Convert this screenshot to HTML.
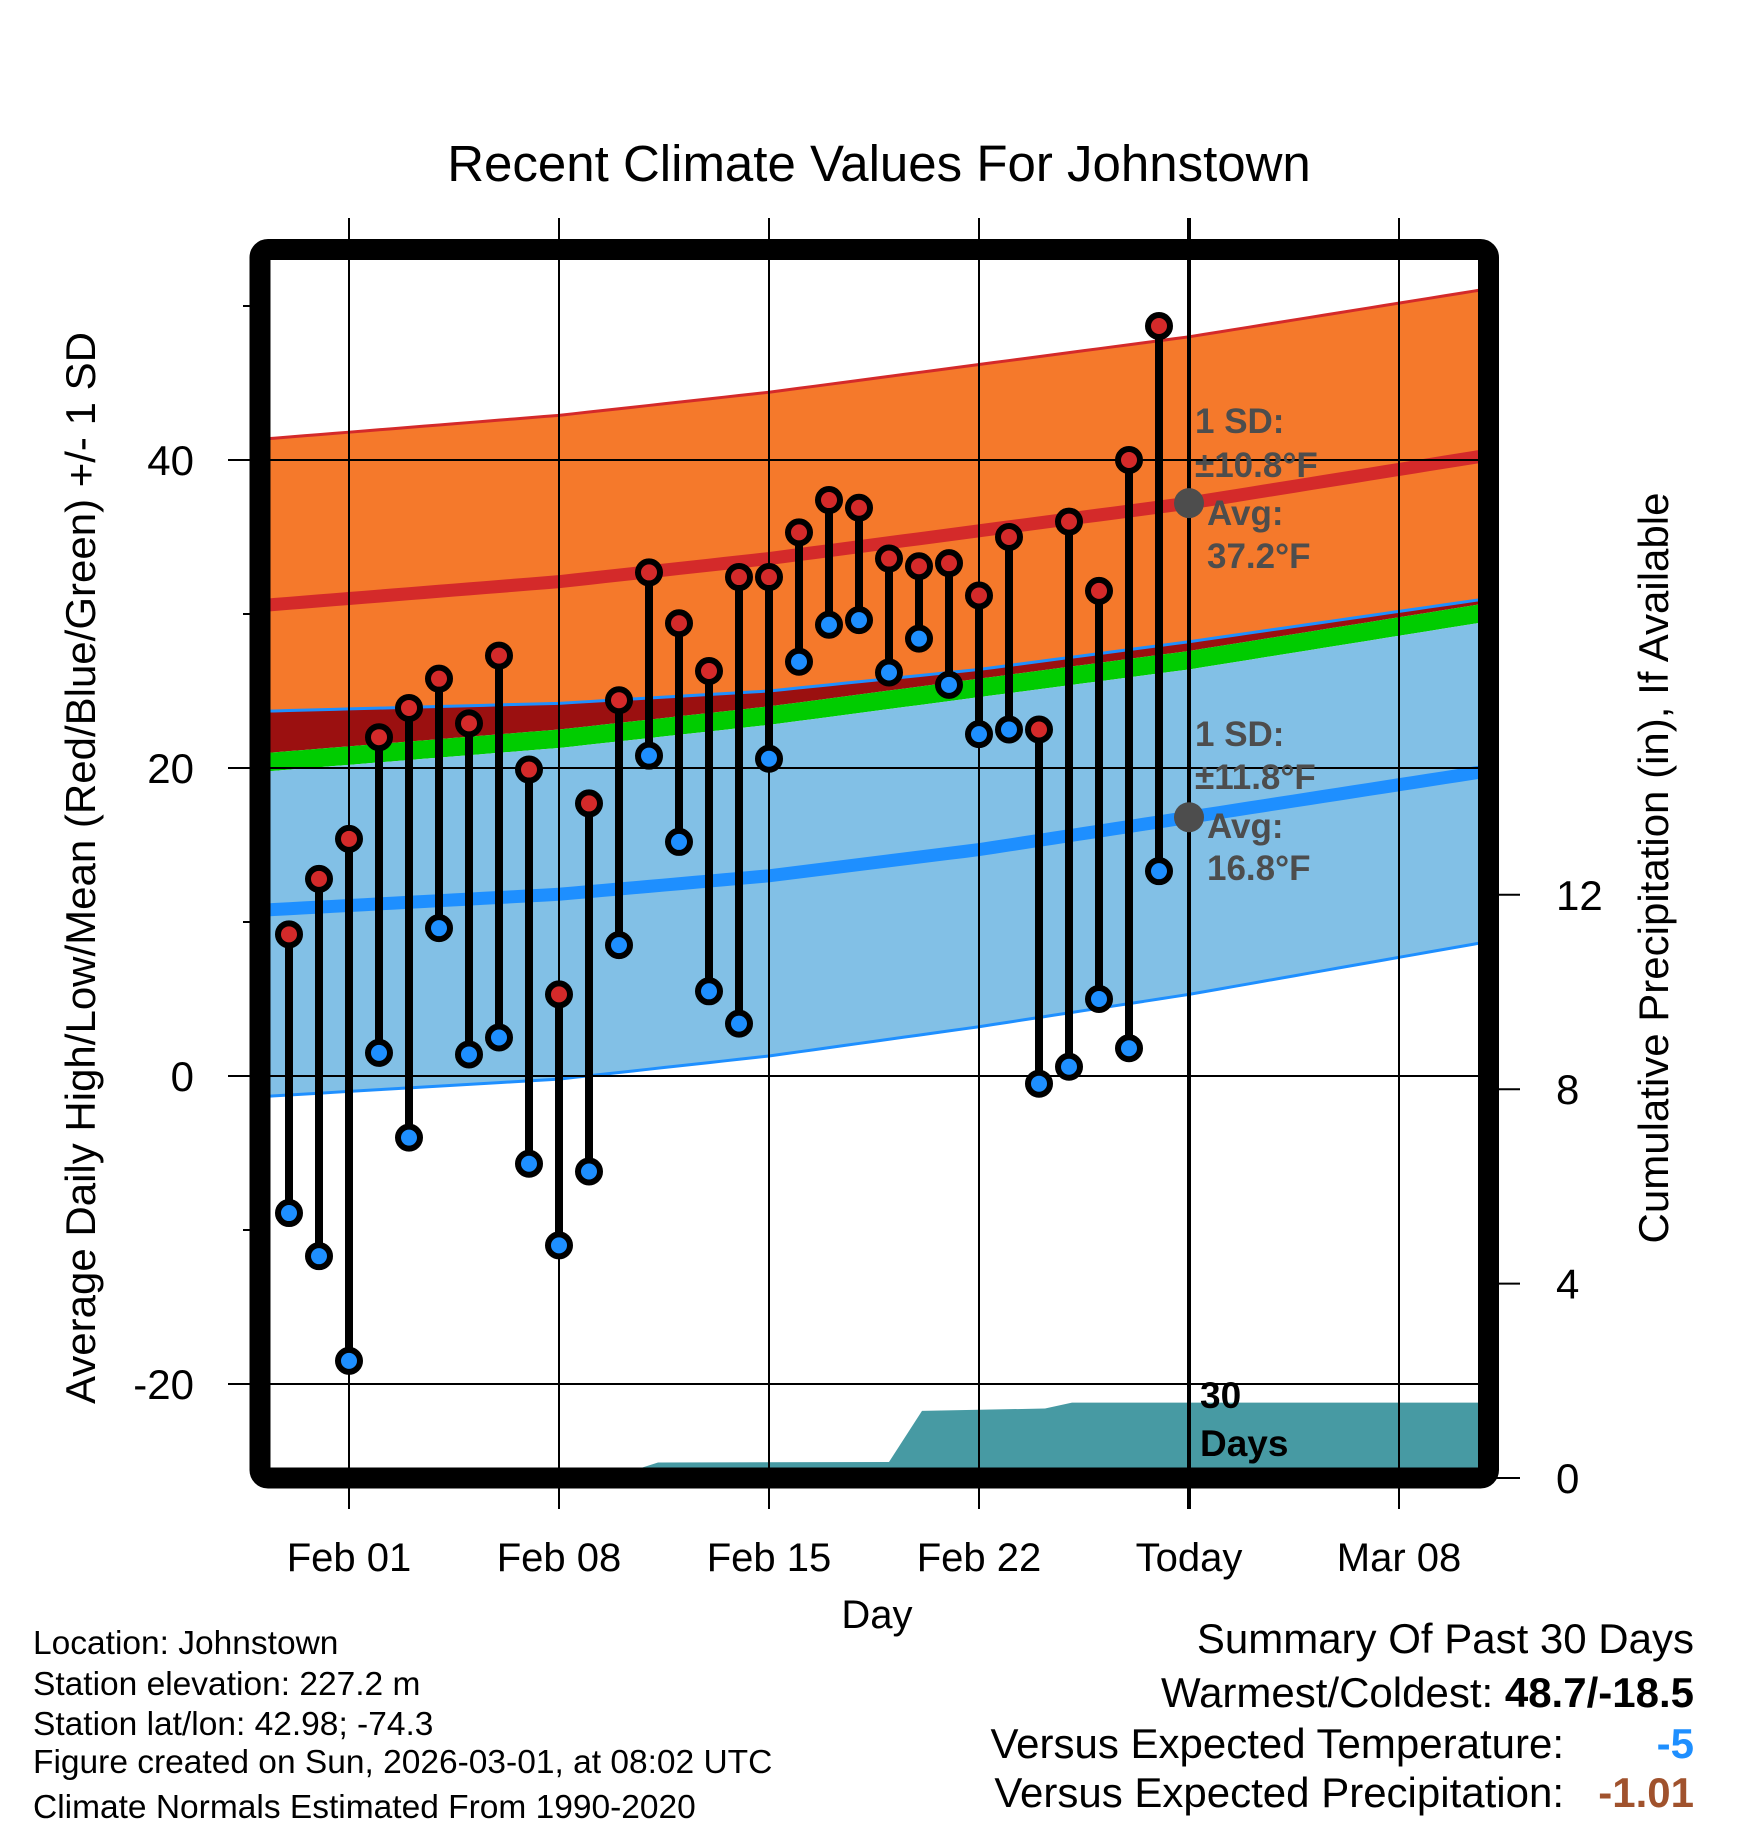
<!DOCTYPE html>
<html><head><meta charset="utf-8"><style>
html,body{margin:0;padding:0;background:#fff;}
svg{display:block;font-family:"Liberation Sans",sans-serif;}
</style></head><body>
<svg id="chart" width="1748" height="1828" viewBox="0 0 1748 1828" xmlns="http://www.w3.org/2000/svg">
<defs><clipPath id="plotclip"><rect x="270" y="260" width="1208" height="1208"/></clipPath></defs>
<text x="879" y="181" font-size="51" text-anchor="middle">Recent Climate Values For Johnstown</text>
<g id="plot" clip-path="url(#plotclip)"></g>
<g id="axes"></g>
<text transform="translate(95,868) rotate(-90)" font-size="42" text-anchor="middle">Average Daily High/Low/Mean (Red/Blue/Green) +/- 1 SD</text>
<text transform="translate(1668,868) rotate(-90)" font-size="42" text-anchor="middle">Cumulative Precipitation (in), If Available</text>
<text x="877" y="1628" font-size="40" text-anchor="middle">Day</text>
<g font-size="33.5">
<text x="33" y="1654">Location: Johnstown</text>
<text x="33" y="1695">Station elevation: 227.2 m</text>
<text x="33" y="1735">Station lat/lon: 42.98; -74.3</text>
<text x="33" y="1773">Figure created on Sun, 2026-03-01, at 08:02 UTC</text>
<text x="33" y="1818">Climate Normals Estimated From 1990-2020</text>
</g>
<g font-size="42">
<text x="1694" y="1653" text-anchor="end">Summary Of Past 30 Days</text>
<text x="1694" y="1707" text-anchor="end">Warmest/Coldest: <tspan font-weight="bold">48.7/-18.5</tspan></text>
<text x="1564" y="1758" text-anchor="end">Versus Expected Temperature:</text>
<text x="1694" y="1758" text-anchor="end" fill="#1e8fff" font-weight="bold">-5</text>
<text x="1564" y="1807" text-anchor="end">Versus Expected Precipitation:</text>
<text x="1694" y="1807" text-anchor="end" fill="#a0522d" font-weight="bold">-1.01</text>
</g>
</svg>
<script>
const obsDays=[-2,-1,0,1,2,3,4,5,6,7,8,9,10,11,12,13,14,15,16,17,18,19,20,21,22,23,24,25,26,27];
const highs=[9.2,12.8,15.4,22,23.9,25.8,22.9,27.3,19.9,5.3,17.7,24.4,32.7,29.4,26.3,32.4,32.4,35.3,37.4,36.9,33.6,33.1,33.3,31.2,35,22.5,36,31.5,40,48.7];
const lows=[-8.9,-11.7,-18.5,1.5,-4,9.6,1.4,2.5,-5.7,-11,-6.2,8.5,20.8,15.2,5.5,3.4,20.6,26.9,29.3,29.6,26.2,28.4,25.4,22.2,22.5,-0.5,0.6,5,1.8,13.3];
const normDays=[-2.6,7,14,21,28,37.6];
const normHigh=[30.6,32.1,33.6,35.4,37.2,40.2];
const normLow=[10.8,11.8,13.0,14.7,16.8,19.7];
const normLowUpper=[23.7,24.2,25.0,26.4,28.2,30.9];
const normLowLower=[-1.3,-0.2,1.3,3.2,5.3,8.6];
const highSD=10.8;
const precipDays=[-2.6,8.7,10.3,18.0,19.1,23.2,24.1,38];
const precipCum=[0,0,0.32,0.33,1.38,1.43,1.55,1.55];
const yTicks=[40,20,0,-20];
const yMinor=[50,30,10,-10];
const pTicks=[0,4,8,12];
const xTickDays=[0,7,14,21,28,35];
const xTickLabels=["Feb 01","Feb 08","Feb 15","Feb 22","Today","Mar 08"];

const NS="http://www.w3.org/2000/svg";
const xd=d=>349+30*d;
const yT=t=>1076-15.4*t;
const yP=p=>1478-48.6*p;
function mk(tag,attrs,parent){const e=document.createElementNS(NS,tag);for(const k in attrs)e.setAttribute(k,attrs[k]);parent.appendChild(e);return e;}
function interp(xs,ys,x){for(let i=0;i<xs.length-1;i++){if(x<=xs[i+1]){const f=(x-xs[i])/(xs[i+1]-xs[i]);return ys[i]+f*(ys[i+1]-ys[i]);}}const n=xs.length-1;const f=(x-xs[n-1])/(xs[n]-xs[n-1]);return ys[n-1]+f*(ys[n]-ys[n-1]);}
const plot=document.getElementById('plot'), axes=document.getElementById('axes');
const samples=[];for(let d=-3;d<=38.5;d+=0.5)samples.push(d);
const hm=d=>interp(normDays,normHigh,d), lm=d=>interp(normDays,normLow,d);
const lu=d=>interp(normDays,normLowUpper,d), ll=d=>interp(normDays,normLowLower,d);
function band(fTop,fBot,fill,name){
  let pts=samples.map(d=>xd(d)+','+yT(fTop(d)));
  pts=pts.concat(samples.slice().reverse().map(d=>xd(d)+','+yT(fBot(d))));
  const p=mk('polygon',{points:pts.join(' '),fill:fill},plot);
  
  
}
function line(f,color,w,name){
  const p=mk('polyline',{points:samples.map(d=>xd(d)+','+yT(f(d))).join(' '),fill:'none',stroke:color,'stroke-width':w},plot);
  
  
}
band(d=>hm(d)+highSD,d=>lu(d),'#f5792b','high-sd-band');
band(d=>lu(d),d=>hm(d)-highSD+1.2,'#9b1010','overlap-band');
band(d=>Math.min(hm(d)-highSD+1.2,lu(d)),d=>hm(d)-highSD,'#00cc00','mean-band');
band(d=>hm(d)-highSD,d=>ll(d),'#82c0e6','low-sd-band');
line(d=>hm(d)+highSD,'#d42a2a',3,'high-sd-upper-line');
line(lu,'#1e8fff',3,'low-sd-upper-line');
line(ll,'#1e8fff',3,'low-sd-lower-line');
line(hm,'#d42a2a',13,'normal-high-line');
line(lm,'#1e8fff',13,'normal-low-line');
{let pts=precipDays.map((d,i)=>xd(d)+','+yP(precipCum[i]));pts.push(xd(38)+','+yP(0),xd(-3)+','+yP(0));
 const p=mk('polygon',{points:pts.join(' '),fill:'#479aa3'},plot);
 
 }
yTicks.forEach(t=>{const l=mk('line',{x1:228,x2:1478,y1:yT(t),y2:yT(t),stroke:'#000','stroke-width':2},axes);
 
 
 const tx=mk('text',{x:194,y:yT(t)+15,'font-size':42,'text-anchor':'end'},axes);tx.textContent=t;
 
 });
yMinor.forEach(t=>{const l=mk('line',{x1:243,x2:252,y1:yT(t),y2:yT(t),stroke:'#000','stroke-width':2},axes);
 
 });
pTicks.forEach(p=>{const l=mk('line',{x1:1490,x2:1520,y1:yP(p),y2:yP(p),stroke:'#000','stroke-width':2},axes);
 
 
 const tx=mk('text',{x:1556,y:yP(p)+15,'font-size':42},axes);tx.textContent=p;
 
 });
xTickDays.forEach((d,i)=>{const isToday=xTickLabels[i]==='Today';
 const l=mk('line',{x1:xd(d),x2:xd(d),y1:218,y2:1509,stroke:'#000','stroke-width':isToday?4:2},axes);
 
 
 const tx=mk('text',{x:xd(d),y:1571,'font-size':40,'text-anchor':'middle'},axes);tx.textContent=xTickLabels[i];
 
 });
obsDays.forEach((d,i)=>{
 const x=xd(d);
 const s=mk('line',{x1:x,x2:x,y1:yT(highs[i]),y2:yT(lows[i]),stroke:'#000','stroke-width':8},axes);
 
 
 const h=mk('circle',{cx:x,cy:yT(highs[i]),r:11,fill:'#d42a2a',stroke:'#000','stroke-width':6},axes);
 
 
 const lo=mk('circle',{cx:x,cy:yT(lows[i]),r:11,fill:'#1e8fff',stroke:'#000','stroke-width':6},axes);
 
 
});
[[hm(28),'today-normal-high-marker'],[lm(28),'today-normal-low-marker']].forEach(([v,n])=>{
 const c=mk('circle',{cx:xd(28),cy:yT(v),r:15,fill:'#4d4d4d'},axes);
 
 });
const ann=[["1 SD:",1195,433],["±10.8°F",1195,477],["Avg:",1207,525],["37.2°F",1207,568],["1 SD:",1195,746],["±11.8°F",1195,789],["Avg:",1207,838],["16.8°F",1207,880]];
ann.forEach(a=>{const t=mk('text',{x:a[1],y:a[2],'font-size':35,'font-weight':'bold',fill:'#4d4d4d'},axes);t.textContent=a[0];
 
 });
[["30",1408],["Days",1456]].forEach(a=>{const t=mk('text',{x:1200,y:a[1],'font-size':37,'font-weight':'bold'},axes);t.textContent=a[0];
 
 });
const fr=mk('rect',{x:260,y:249.5,width:1228.5,height:1228.5,rx:8,fill:'none',stroke:'#000','stroke-width':21},axes);


</script>
</body></html>
